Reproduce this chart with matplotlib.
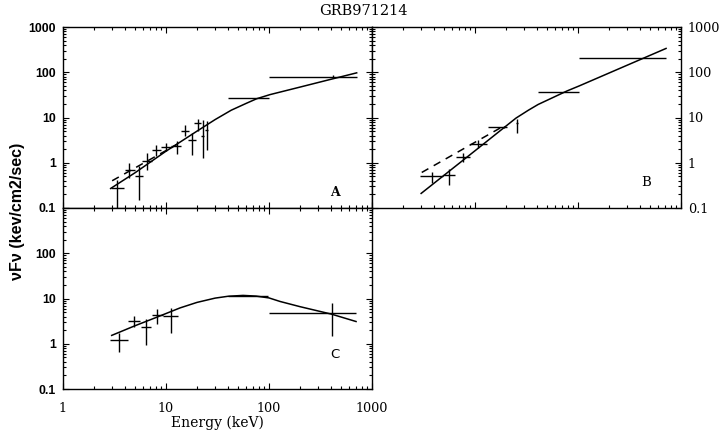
import matplotlib
matplotlib.use("Agg")
import matplotlib.pyplot as plt
from matplotlib.ticker import FixedLocator, LogLocator, NullFormatter, FixedFormatter

# ---- panel A: data crosses (energy keV, nuFnu) ----
a_e = [3.37, 4.4, 5.5, 6.5, 8.0, 10.0, 12.7, 15.3, 17.8, 20.3, 22.7, 24.8, 63.7, 415.0]
a_elo = [2.93, 4.0, 5.0, 5.9, 7.3, 8.9, 11.2, 14.0, 16.5, 18.8, 21.9, 24.0, 40.3, 100.7]
a_ehi = [3.91, 5.0, 5.95, 7.3, 8.9, 11.4, 14.0, 16.8, 19.5, 21.9, 23.5, 25.6, 100.7, 708.0]
a_f = [0.27, 0.7, 0.51, 1.1, 1.9, 2.2, 2.3, 5.1, 3.2, 7.4, 4.0, 5.3, 26.4, 80.0]
a_flo = [0.05, 0.46, 0.15, 0.7, 1.43, 1.8, 1.56, 4.0, 1.5, 5.0, 1.27, 1.95, 26.4, 76.0]
a_fhi = [0.42, 0.98, 0.85, 1.65, 2.5, 2.8, 3.1, 7.0, 4.6, 9.4, 9.0, 8.3, 26.4, 85.0]
# model curves
a_model_e = [2.9, 5, 10, 20, 30, 43, 60, 76, 102, 200, 400, 710]
a_model_f = [0.27, 0.6, 1.8, 5.0, 9.0, 14.5, 20.5, 26, 32, 47, 70, 97]
a_dash_e = [3.0, 13.0]
a_dash_f = [0.40, 2.6]

# ---- panel B ----
b_e = [3.8, 5.6, 7.6, 10.7, 19.0, 25.6, 65.0, 400.0]
b_elo = [2.9, 4.9, 6.6, 8.9, 13.4, 25.0, 41.0, 103.0]
b_ehi = [4.9, 6.4, 8.9, 13.1, 20.5, 26.2, 103.0, 716.0]
b_f = [0.51, 0.53, 1.32, 2.64, 6.2, 7.6, 36.6, 205.0]
b_flo = [0.35, 0.32, 1.02, 2.1, 5.8, 4.6, 36.6, 205.0]
b_fhi = [0.64, 0.72, 1.64, 3.25, 6.6, 9.4, 36.6, 205.0]
b_model_e = [3.0, 10, 25, 33, 41, 78, 103, 300, 716]
b_model_f = [0.21, 1.84, 9.7, 14.5, 19.4, 38.5, 50, 143, 336]
b_dash_e = [3.04, 18.8]
b_dash_f = [0.61, 6.4]

# ---- panel C ----
c_e = [3.5, 4.9, 6.4, 8.2, 11.2, 63.0, 406.0]
c_elo = [2.86, 4.3, 5.7, 7.3, 9.4, 40.0, 100.7]
c_ehi = [4.3, 5.6, 7.1, 9.4, 13.2, 98.0, 700.0]
c_f = [1.2, 3.2, 2.3, 4.3, 4.1, 11.3, 4.7]
c_flo = [0.65, 2.3, 0.92, 2.7, 1.7, 11.3, 1.48]
c_fhi = [1.75, 4.1, 3.5, 5.8, 6.3, 11.3, 8.1]
c_model_e = [2.97, 5, 8, 13.7, 20, 30, 40, 56, 75, 100, 128, 200, 406, 700]
c_model_f = [1.53, 2.5, 3.8, 6.2, 8.2, 10.2, 11.2, 11.7, 11.3, 10.3, 8.6, 6.6, 4.5, 3.1]

decades = [0.1, 1, 10, 100, 1000]
decade_labels = ["0.1", "1", "10", "100", "1000"]

W, H = 725, 433


def _rect(x0, y_top, w=309, h=181):
    return [x0 / W, 1 - (y_top + h) / H, w / W, h / H]


def _crosses(axis, e, elo, ehi, f, flo, fhi):
    xerr = [[c - lo for c, lo in zip(e, elo)], [hi - c for c, hi in zip(e, ehi)]]
    yerr = [[c - lo for c, lo in zip(f, flo)], [hi - c for c, hi in zip(f, fhi)]]
    axis.errorbar(e, f, xerr=xerr, yerr=yerr, fmt="none", ecolor="black",
                  elinewidth=1.0, capsize=0)


def _setup(axis):
    axis.set_xscale("log")
    axis.set_yscale("log")
    axis.set_xlim(1, 1000)
    axis.set_ylim(0.1, 1000)
    for spine in axis.spines.values():
        spine.set_linewidth(1.0)
    axis.xaxis.set_major_locator(FixedLocator([1, 10, 100, 1000]))
    axis.yaxis.set_major_locator(FixedLocator(decades))
    axis.xaxis.set_minor_locator(LogLocator(base=10, subs=range(2, 10)))
    axis.yaxis.set_minor_locator(LogLocator(base=10, subs=range(2, 10)))
    axis.xaxis.set_minor_formatter(NullFormatter())
    axis.yaxis.set_minor_formatter(NullFormatter())
    axis.tick_params(which="both", direction="in", top=True, bottom=True,
                     left=True, right=True, width=0.8, colors="black")
    axis.tick_params(which="major", length=4.5)
    axis.tick_params(which="minor", length=2.2)


fig = plt.figure(figsize=(7.25, 4.33), dpi=100)
ax_a = fig.add_axes(_rect(63, 27))
ax_b = fig.add_axes(_rect(372, 27))
ax_c = fig.add_axes(_rect(63, 208))
for ax in (ax_a, ax_b, ax_c):
    _setup(ax)

sans_bold = dict(family="Liberation Sans", weight="bold", size=8.8)
serif = dict(family="DejaVu Serif", size=9.2)

# panel A
ax_a.plot(a_model_e, a_model_f, color="black", lw=1.1)
ax_a.plot(a_dash_e, a_dash_f, color="black", lw=1.1, ls=(0, (5, 4)))
_crosses(ax_a, a_e, a_elo, a_ehi, a_f, a_flo, a_fhi)
ax_a.xaxis.set_major_formatter(NullFormatter())
ax_a.yaxis.set_major_formatter(FixedFormatter(decade_labels))
ax_a.tick_params(axis="y", which="major", pad=5)
for lab in ax_a.get_yticklabels():
    lab.set(**sans_bold)
ax_a.text(0.88, 0.088, "A", transform=ax_a.transAxes, fontsize=9,
          family="DejaVu Serif", weight="bold", ha="center", va="center")

# panel B
ax_b.plot(b_model_e, b_model_f, color="black", lw=1.1)
ax_b.plot(b_dash_e, b_dash_f, color="black", lw=1.1, ls=(0, (5, 4)))
_crosses(ax_b, b_e, b_elo, b_ehi, b_f, b_flo, b_fhi)
ax_b.xaxis.set_major_formatter(NullFormatter())
ax_b.yaxis.tick_right()
ax_b.tick_params(which="both", left=True, right=True, labelleft=False, labelright=True)
ax_b.yaxis.set_major_formatter(FixedFormatter(decade_labels))
ax_b.tick_params(axis="y", which="major", pad=5)
for lab in ax_b.get_yticklabels():
    lab.set(**serif)
ax_b.text(0.886, 0.14, "B", transform=ax_b.transAxes, fontsize=9.5,
          family="DejaVu Serif", ha="center", va="center")

# panel C
ax_c.plot(c_model_e, c_model_f, color="black", lw=1.1)
_crosses(ax_c, c_e, c_elo, c_ehi, c_f, c_flo, c_fhi)
ax_c.xaxis.set_major_formatter(FixedFormatter(["1", "10", "100", "1000"]))
ax_c.yaxis.set_major_formatter(FixedFormatter(decade_labels[:-1] + [""]))
ax_c.tick_params(axis="y", which="major", pad=5)
ax_c.tick_params(axis="x", which="major", pad=9)
for lab in ax_c.get_yticklabels():
    lab.set(**sans_bold)
for lab in ax_c.get_xticklabels():
    lab.set(**serif)
ax_c.text(0.88, 0.188, "C", transform=ax_c.transAxes, fontsize=9.5,
          family="DejaVu Sans", ha="center", va="center")
ax_c.set_xlabel("Energy (keV)", family="DejaVu Serif", fontsize=10, labelpad=1)

fig.text(18 / W, 1 - 211 / H, "\u03bdF\u03bd (kev/cm2/sec)", rotation=90,
         ha="center", va="center", family="Liberation Sans", weight="bold", fontsize=11.5)
fig.text(363 / W, 1 - 11 / H, "GRB971214", ha="center", va="center",
         family="DejaVu Serif", fontsize=10.5)

fig.savefig("out.png", dpi=100)
plt.close(fig)
